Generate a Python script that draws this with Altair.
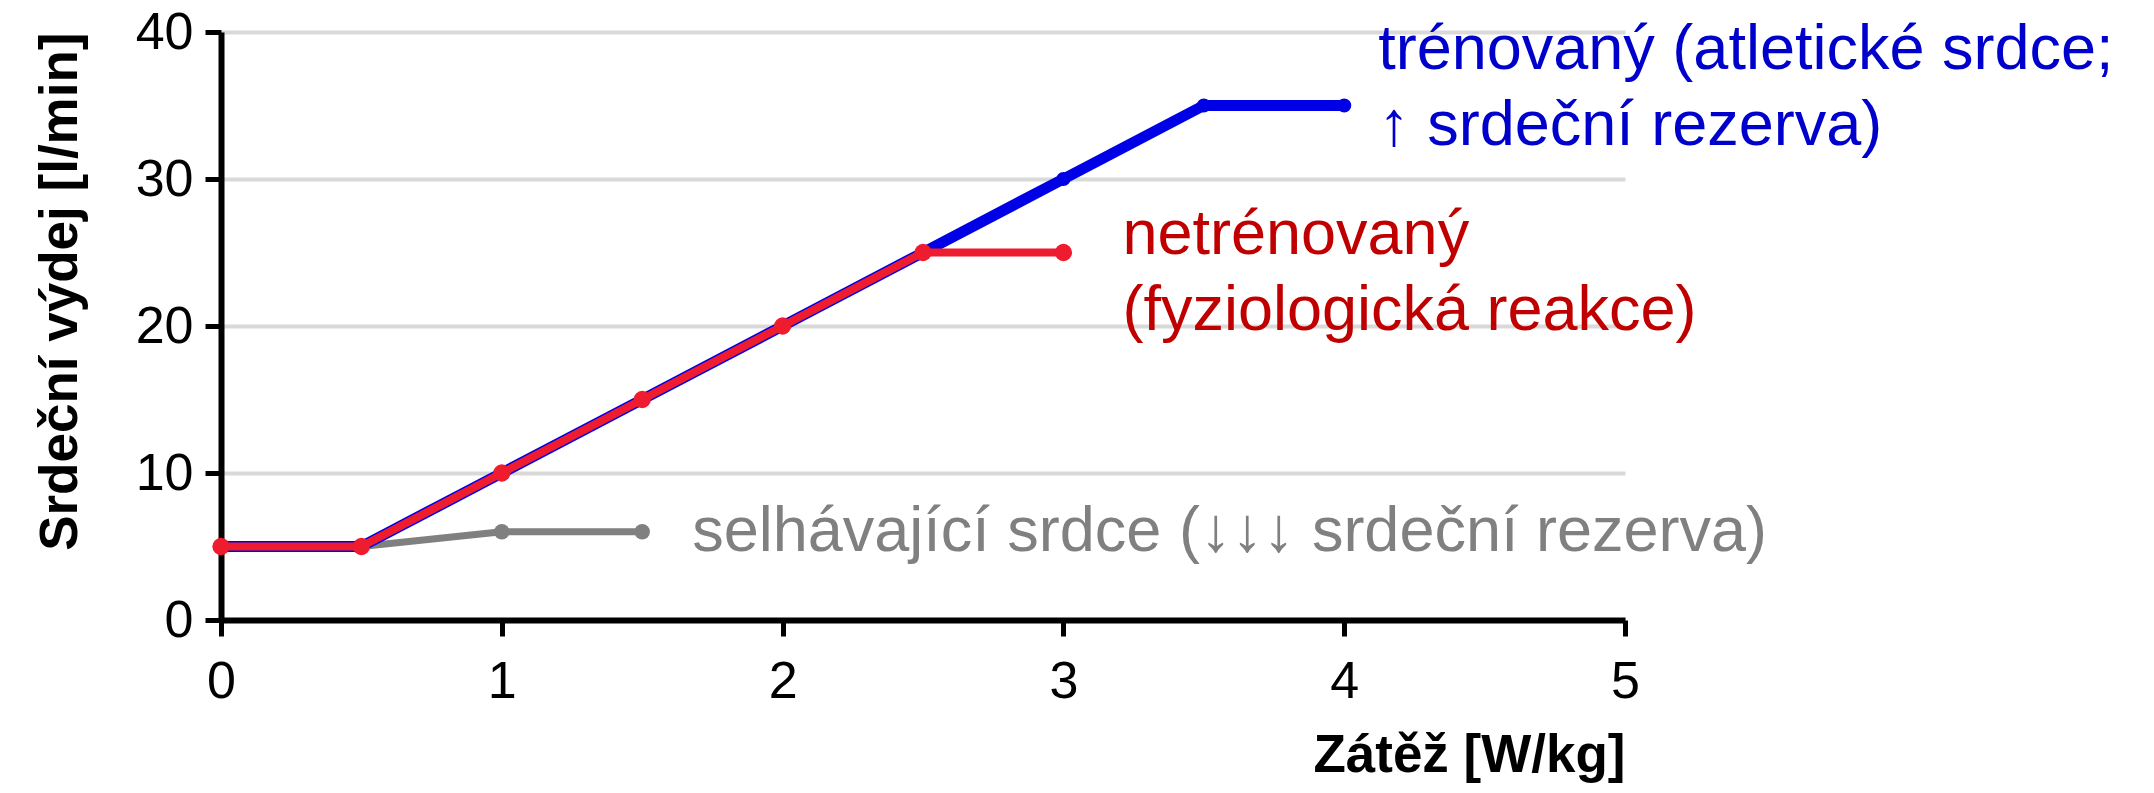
import altair as alt
import pandas as pd

# ---- data ----
load_trained = [0, 0.5, 1, 1.5, 2, 2.5, 3, 3.5, 4]
co_trained = [5, 5, 10, 15, 20, 25, 30, 35, 35]

load_untrained = [0, 0.5, 1, 1.5, 2, 2.5, 3]
co_untrained = [5, 5, 10, 15, 20, 25, 25]

load_failing = [0, 0.5, 1, 1.5]
co_failing = [5, 5, 6, 6]

label_trained = "trénovaný (atletické srdce;\n↑ srdeční rezerva)"
label_untrained = "netrénovaný\n(fyziologická reakce)"
label_failing = "selhávající srdce (↓↓↓ srdeční rezerva)"

x_ticks = [0, 1, 2, 3, 4, 5]
y_ticks = [0, 10, 20, 30, 40]

x_title = "Zátěž [W/kg]"
y_title = "Srdeční výdej [l/min]"

BLUE_LINE = "#0000e6"
BLUE_TEXT = "#0000cc"
RED_LINE = "#ee1c2e"
RED_TEXT = "#c00000"
GRAY = "#808080"
FONT = "Liberation Sans"


def frame(xs, ys):
    return pd.DataFrame({"x": xs, "y": ys})


df_t = frame(load_trained, co_trained)
df_u = frame(load_untrained, co_untrained)
df_f = frame(load_failing, co_failing)

x_scale = alt.Scale(domain=[0, 5], nice=False, zero=False)
y_scale = alt.Scale(domain=[0, 40], nice=False)

common_axis = dict(
    domainColor="black", domainWidth=6, tickColor="black", tickWidth=5, tickSize=16,
    labelFont=FONT, labelFontSize=52, labelColor="black", labelFlush=False,
    titleFont=FONT, titleFontSize=53, titleFontWeight="bold", titleColor="black",
    titleAnchor="end",
)

x_axis = alt.Axis(values=x_ticks, title=x_title, grid=False,
                  labelPadding=20, titlePadding=22, format="d", **common_axis)
y_axis = alt.Axis(values=y_ticks, title=y_title, grid=True,
                  gridColor="#d9d9d9", gridWidth=4,
                  labelPadding=12, titlePadding=48, **common_axis)

X = alt.X("x:Q", scale=x_scale, axis=x_axis)
Y = alt.Y("y:Q", scale=y_scale, axis=y_axis)


def series(df, color, width, size):
    line = alt.Chart(df).mark_line(color=color, strokeWidth=width, strokeCap="round",
                                   strokeJoin="round").encode(x=X, y=Y)
    pts = alt.Chart(df).mark_circle(color=color, size=size, opacity=1).encode(x=X, y=Y)
    return line + pts


def label(df, text, color, dx, dy, baseline):
    last = df.tail(1).assign(t=text)
    return alt.Chart(last).mark_text(
        align="left", baseline=baseline, dx=dx, dy=dy, font=FONT, fontSize=63,
        lineHeight=76, lineBreak="\n", color=color,
    ).encode(x=X, y=Y, text="t:N")


chart = alt.layer(
    series(df_f, GRAY, 7, 240),
    series(df_t, BLUE_LINE, 11, 200),
    series(df_u, RED_LINE, 8, 300),
    label(df_t, label_trained, BLUE_TEXT, 34, -87, "top"),
    label(df_u, label_untrained, RED_TEXT, 59, -49, "top"),
    label(df_f, label_failing, GRAY, 50, 19, "alphabetic"),
).properties(
    width=1404, height=588,
    autosize=alt.AutoSizeParams(type="none"),
    padding={"left": 213, "top": 24, "right": 510, "bottom": 168},
).configure_view(stroke=None)

chart.save("out.html", embed_options={"renderer": "svg", "actions": False})
